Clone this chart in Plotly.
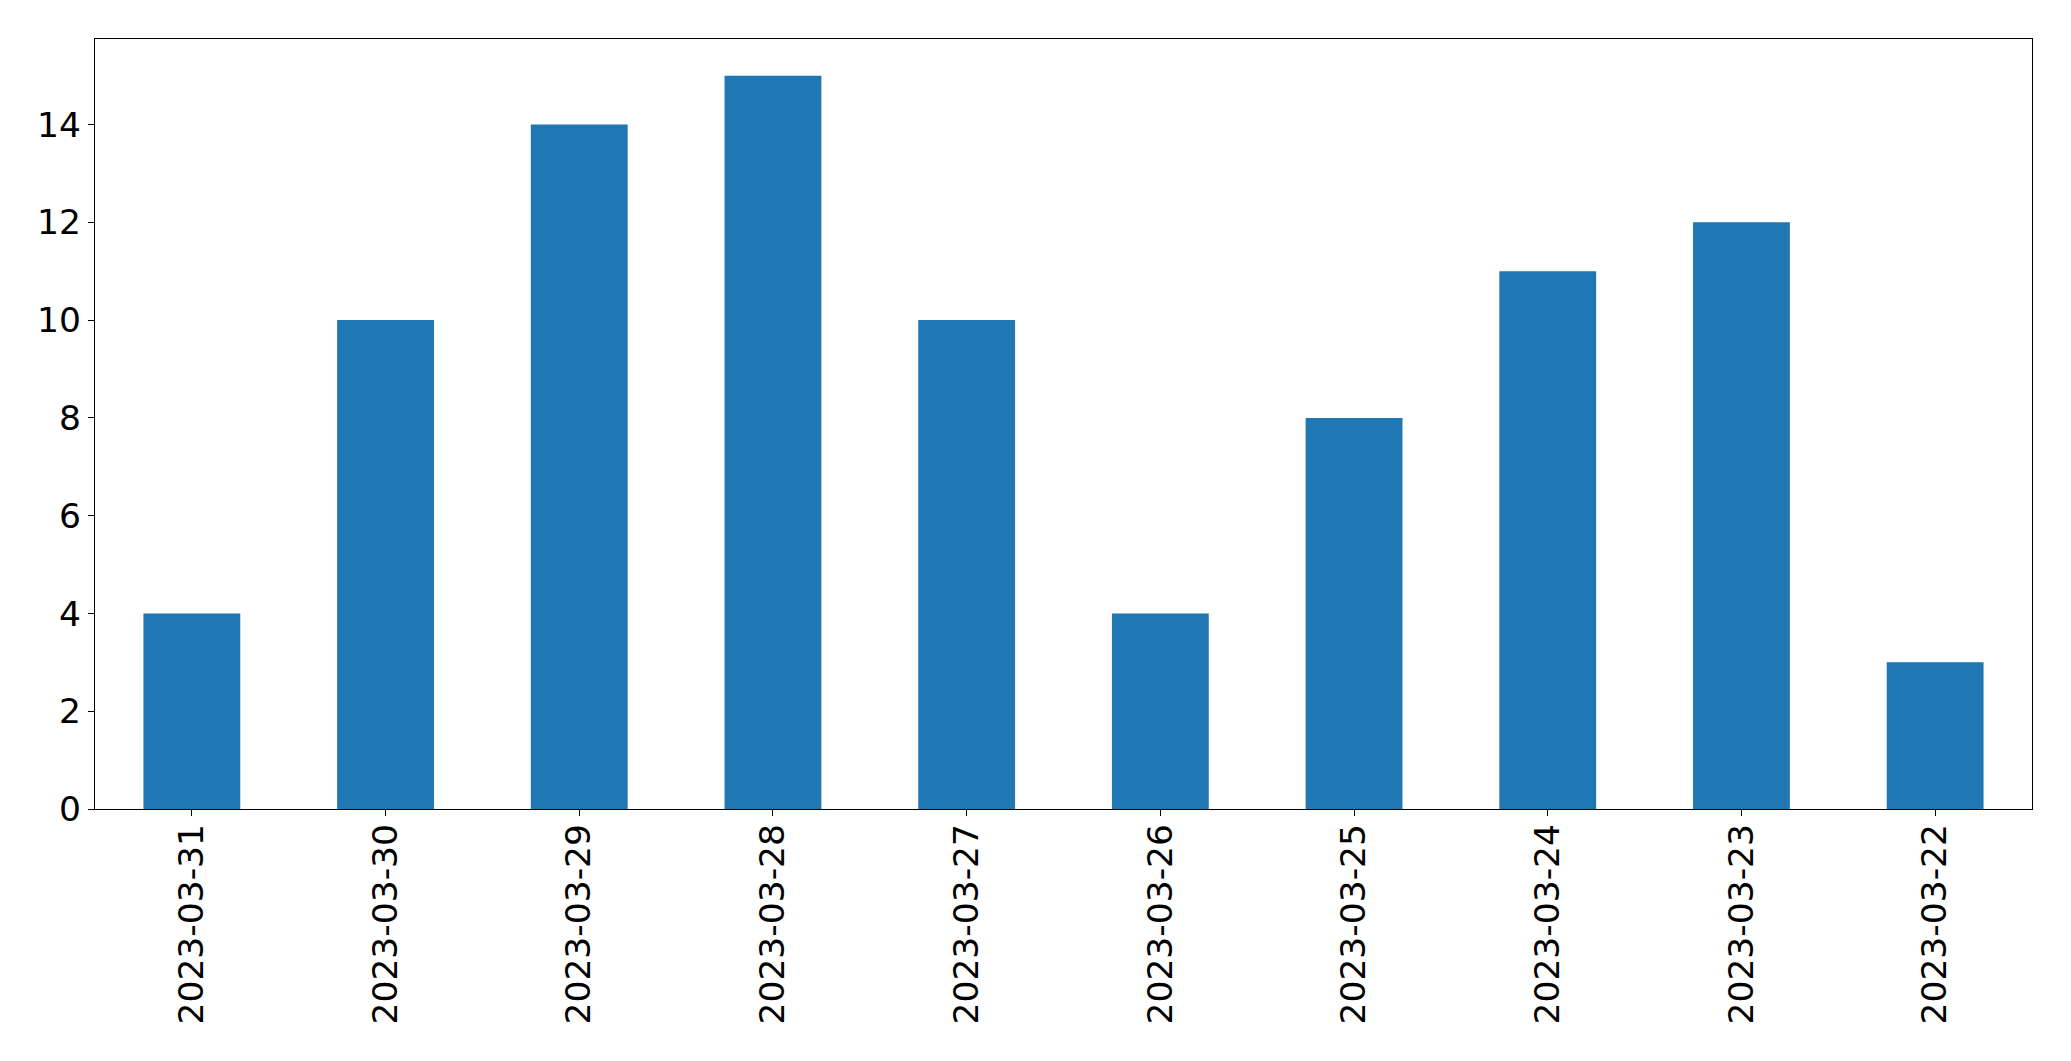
import plotly.graph_objects as go

dates = ["2023-03-31", "2023-03-30", "2023-03-29", "2023-03-28", "2023-03-27",
         "2023-03-26", "2023-03-25", "2023-03-24", "2023-03-23", "2023-03-22"]
counts = [4, 10, 14, 15, 10, 4, 8, 11, 12, 3]
y_ticks = [0, 2, 4, 6, 8, 10, 12, 14]

fig = go.Figure(go.Bar(x=dates, y=counts, width=0.5, marker=dict(color="#1f77b4", line=dict(width=0))))

fig.update_layout(
    width=2071, height=1061,
    margin=dict(l=95, r=39, t=39, b=252),
    paper_bgcolor="white", plot_bgcolor="white",
    font=dict(family="DejaVu Sans", size=34.5, color="black"),
    showlegend=False,
)
fig.update_xaxes(
    type="category", range=[-0.5, 9.5], tickangle=-90,
    showline=True, linecolor="black", linewidth=1.4, mirror=True,
    ticks="outside", ticklen=6, tickcolor="black", tickwidth=1.4,
    ticklabelstandoff=-6,
    showgrid=False, zeroline=False,
)
fig.update_yaxes(
    range=[0, 15.75], tickvals=y_ticks,
    showline=True, linecolor="black", linewidth=1.4, mirror=True,
    ticks="outside", ticklen=6, tickcolor="black", tickwidth=1.4,
    showgrid=False, zeroline=False,
)
fig.write_html("out.html")
